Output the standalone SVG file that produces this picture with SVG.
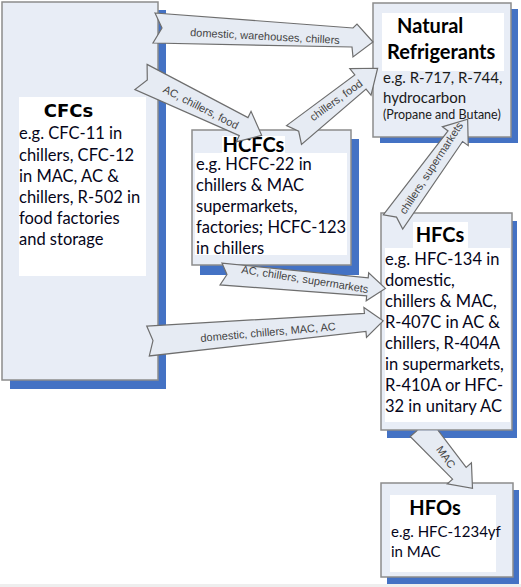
<svg xmlns="http://www.w3.org/2000/svg" width="521" height="587" viewBox="0 0 521 587">
<style>
.box{fill:#e8edf6;stroke:#8c8c8c;stroke-width:1.5}
.shadow{fill:#4472c4}
.wb{fill:#ffffff}
.title{font-family:Lato,"Liberation Sans",sans-serif;font-weight:bold;font-size:20px;fill:#000}
.body{font-family:Lato,"Liberation Sans",sans-serif;font-size:16.5px;fill:#05051a}
.arrow{fill:#e6ebf3;stroke:#6e6e6e;stroke-width:1.2;stroke-linejoin:miter}
.lbl{font-family:"Liberation Sans",Arial,sans-serif;font-size:11px;fill:#444;text-anchor:middle;dominant-baseline:central}
</style>
<defs>
<clipPath id="belowHFC" clipPathUnits="userSpaceOnUse"><rect x="0" y="430.5" width="521" height="160"/></clipPath>
</defs>
<rect x="0" y="584" width="521" height="3" fill="#eeeeee"/>
<g id="cfcs">
<rect class="shadow" x="10" y="10" width="156" height="379"/>
<rect class="box" x="2" y="2" width="156" height="378"/>
<rect class="wb" x="19" y="97" width="127" height="179"/>
<text x="68.5" y="117" text-anchor="middle" style="font-family:'DejaVu Sans',sans-serif;font-weight:bold;font-size:18px">CFCs</text>
<text class="body" x="19" y="139">e.g. CFC-11 in</text>
<text class="body" x="19" y="161">chillers, CFC-12</text>
<text class="body" x="19" y="182">in MAC, AC &amp;</text>
<text class="body" x="19" y="203">chillers, R-502 in</text>
<text class="body" x="19" y="224">food factories</text>
<text class="body" x="19" y="245">and storage</text>
</g>
<g id="hcfcs">
<rect class="shadow" x="200" y="139" width="159" height="136"/>
<rect class="box" x="192" y="130" width="159" height="135"/>
<rect class="wb" x="222" y="136" width="63" height="18"/>
<rect class="wb" x="195" y="153" width="152" height="102"/>
<text class="title" x="253.5" y="152" text-anchor="middle">HCFCs</text>
<text class="body" x="196" y="170">e.g. HCFC-22 in</text>
<text class="body" x="196" y="191">chillers &amp; MAC</text>
<text class="body" x="196" y="212">supermarkets,</text>
<text class="body" x="196" y="233">factories; HCFC-123</text>
<text class="body" x="196" y="254">in chillers</text>
</g>
<g id="natural">
<rect class="shadow" x="380" y="9" width="138" height="134"/>
<rect class="box" x="373" y="3" width="138" height="134"/>
<rect class="wb" x="382" y="13" width="122" height="58"/>
<text class="title" x="397" y="33">Natural</text>
<text class="title" x="387" y="59">Refrigerants</text>
<text class="body" x="383" y="83" style="font-size:15px;fill:#1a1a1a">e.g. R-717, R-744,</text>
<text class="body" x="383" y="103" style="font-size:15px;fill:#1a1a1a">hydrocarbon</text>
<text class="body" x="383" y="119" style="font-size:12.5px;fill:#1a1a1a">(Propane and Butane)</text>
</g>
<g id="hfcs">
<rect class="shadow" x="387" y="221" width="130" height="217"/>
<rect class="box" x="381" y="213" width="131" height="217"/>
<rect class="wb" x="413" y="222" width="55" height="26"/>
<rect class="wb" x="385" y="248" width="125" height="174"/>
<text class="title" x="440" y="242" text-anchor="middle">HFCs</text>
<text class="body" x="385" y="265">e.g. HFC-134 in</text>
<text class="body" x="385" y="286">domestic,</text>
<text class="body" x="385" y="307">chillers &amp; MAC,</text>
<text class="body" x="385" y="328">R-407C in AC &amp;</text>
<text class="body" x="385" y="349">chillers, R-404A</text>
<text class="body" x="385" y="370">in supermarkets,</text>
<text class="body" x="385" y="391">R-410A or HFC-</text>
<text class="body" x="385" y="412">32 in unitary AC</text>
</g>
<g id="hfos">
<rect class="shadow" x="387" y="490" width="132" height="94"/>
<rect class="box" x="381" y="483" width="132" height="94"/>
<rect class="wb" x="390" y="495" width="106" height="77"/>
<text class="title" x="435" y="515" text-anchor="middle">HFOs</text>
<text class="body" x="391" y="537" style="font-size:15px">e.g. HFC-1234yf</text>
<text class="body" x="391" y="557" style="font-size:15px">in MAC</text>
</g>
<g id="connectors">
<g id="a1">
<polygon class="arrow" points="155,13 353,28 357,24 373,42 353,57 352,47 153,43 162,28"/>
<text class="lbl" transform="translate(265,36) rotate(3)">domestic, warehouses, chillers</text>
</g>
<g id="a2">
<polygon class="arrow" transform="translate(141,77) rotate(25.8)" points="0,-14 114,-10 114,-17 134,0 114,17 114,10 0,14 7,0"/>
<text class="lbl" transform="translate(201,107) rotate(27)">AC, chillers, food</text>
</g>
<g id="a3">
<polygon class="arrow" transform="translate(294,135) rotate(-38.6)" points="0,-12 85,-9 85,-17 107,0 85,17 85,9 0,12 6,0"/>
<text class="lbl" transform="translate(336,100) rotate(-36)">chillers, food</text>
</g>
<g id="a4">
<polygon class="arrow" transform="translate(393,222) rotate(-54)" points="0,-12 106,-9 106,-16 127,0 106,16 106,9 0,12 6,0"/>
<text class="lbl" transform="translate(431,168) rotate(-57)">chillers, supermarkets</text>
</g>
<g id="a5">
<polygon class="arrow" transform="translate(221,274) rotate(5)" points="0,-11 147,-9 147,-14 165,0 147,14 147,9 0,11 6,0"/>
<text class="lbl" transform="translate(305,279) rotate(9)">AC, chillers, supermarkets</text>
</g>
<g id="a6">
<polygon class="arrow" transform="translate(148,341) rotate(-4.9)" points="0,-15 218,-9 218,-15 236,0 218,15 218,9 0,15 5,0"/>
<text class="lbl" transform="translate(268,332) rotate(-5)">domestic, chillers, MAC, AC</text>
</g>
<g id="a7">
<g clip-path="url(#belowHFC)">
<polygon class="arrow" transform="translate(420,428) rotate(49)" points="0,-13 60,-9 60,-16 80,0 60,16 60,9 0,13"/>
</g>
<text class="lbl" transform="translate(446,457) rotate(55)">MAC</text>
</g>
</g>
</svg>
